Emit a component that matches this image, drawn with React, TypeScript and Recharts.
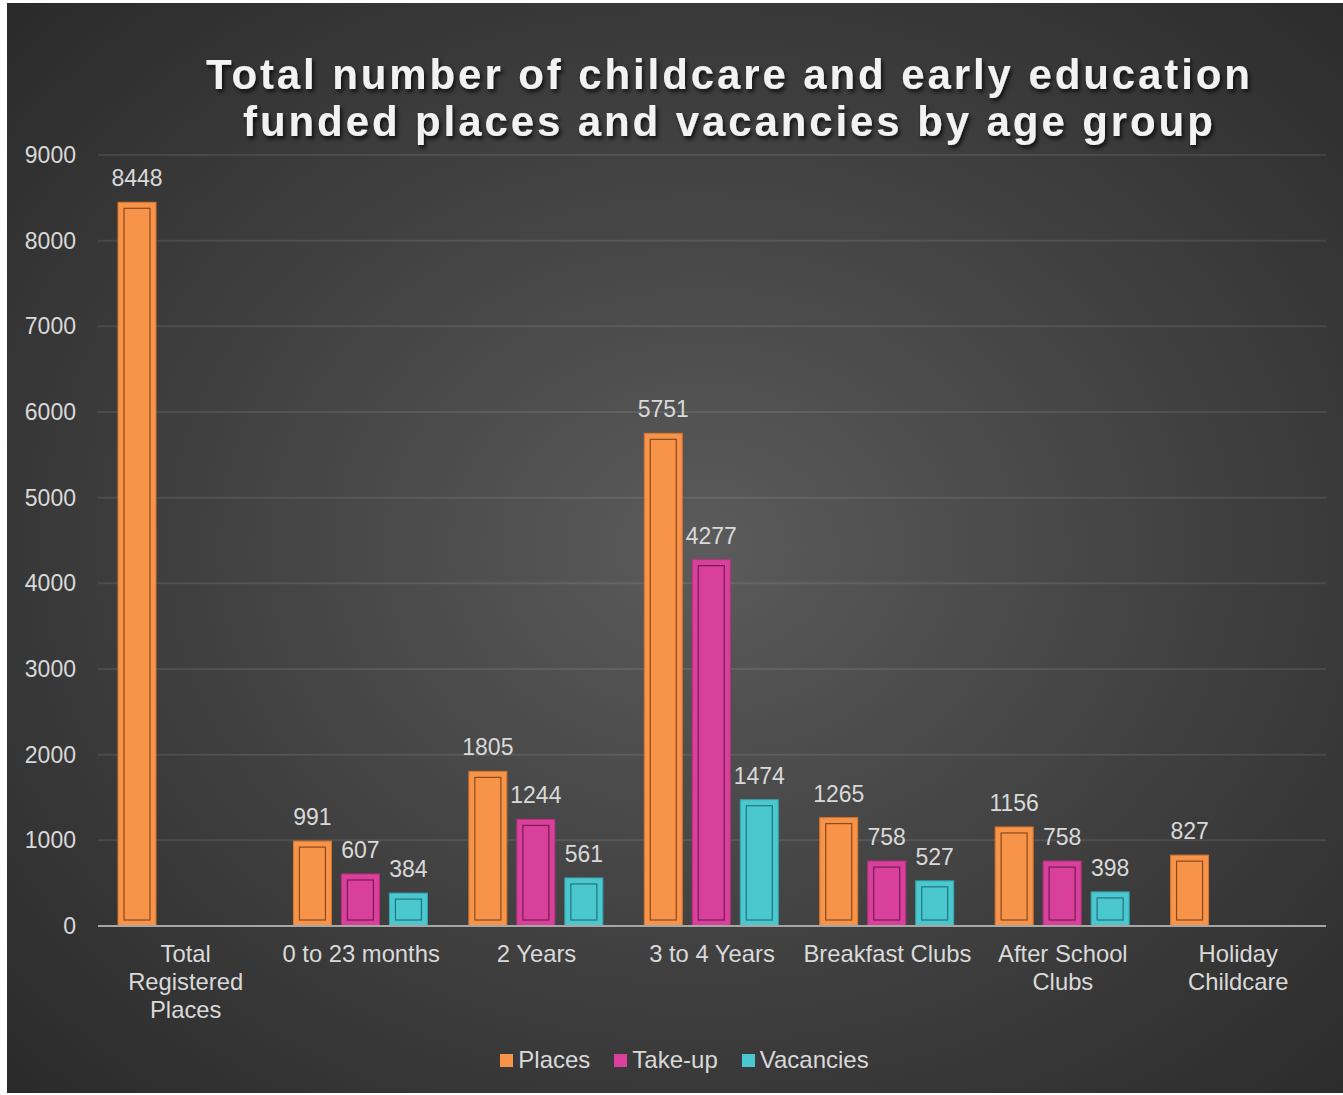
import React from "react";
import { BarChart, Bar, XAxis, YAxis, CartesianGrid, LabelList, Legend } from "recharts";

const categories = [
  "Total Registered Places",
  "0 to 23 months",
  "2 Years",
  "3 to 4 Years",
  "Breakfast Clubs",
  "After School Clubs",
  "Holiday Childcare",
];
const places = [8448, 991, 1805, 5751, 1265, 1156, 827];
const takeUp = [null, 607, 1244, 4277, 758, 758, null];
const vacancies = [null, 384, 561, 1474, 527, 398, null];
const yTicks = [0, 1000, 2000, 3000, 4000, 5000, 6000, 7000, 8000, 9000];
const tickLines: Record<string, string[]> = {
  "Total Registered Places": ["Total", "Registered", "Places"],
  "0 to 23 months": ["0 to 23 months"],
  "2 Years": ["2 Years"],
  "3 to 4 Years": ["3 to 4 Years"],
  "Breakfast Clubs": ["Breakfast Clubs"],
  "After School Clubs": ["After School", "Clubs"],
  "Holiday Childcare": ["Holiday", "Childcare"],
};
const seriesNames = ["Places", "Take-up", "Vacancies"];
const titleLines = [
  "Total number of childcare and early education",
  "funded places and vacancies by age group",
];

const COLORS = {
  places: { fill: "#F7944A", edge: "#D9752C", inner: "#8A4A1C" },
  takeUp: { fill: "#D9409B", edge: "#B8307F", inner: "#761C52" },
  vacancies: { fill: "#4BC8CF", edge: "#33A7AE", inner: "#22747A" },
};

const data = categories.map((c, i) => ({
  category: c,
  places: places[i],
  takeUp: takeUp[i],
  vacancies: vacancies[i],
}));

const FONT = '"Liberation Sans", Arial, sans-serif';
const TXT = "#d9d9d9";

const makeShape = (c: { fill: string; edge: string; inner: string }) => (props: any) => {
  const { x, y, width, height } = props;
  if (height == null || !(height > 0)) return null;
  const inset = 6;
  return (
    <g>
      <rect x={x} y={y} width={width} height={height} fill={c.fill} stroke={c.edge} strokeWidth={1} />
      {height > 2 * inset + 2 && (
        <rect
          x={x + inset}
          y={y + inset}
          width={width - 2 * inset}
          height={height - 2 * inset}
          fill="none"
          stroke={c.inner}
          strokeWidth={1.2}
        />
      )}
    </g>
  );
};

const XTick = (props: any) => {
  const { x, y, payload } = props;
  const lines = tickLines[payload.value] || [String(payload.value)];
  return (
    <g>
      {lines.map((l, i) => (
        <text
          key={i}
          x={x}
          y={y + 28 + i * 28}
          textAnchor="middle"
          fill={TXT}
          fontSize={23.8}
          fontFamily={FONT}
        >
          {l}
        </text>
      ))}
    </g>
  );
};

const LegendContent = () => {
  const cols = [COLORS.places.fill, COLORS.takeUp.fill, COLORS.vacancies.fill];
  return (
    <div
      style={{
        display: "flex",
        justifyContent: "center",
        alignItems: "center",
        height: 34,
        paddingLeft: 19,
        fontFamily: FONT,
        fontSize: 24,
        color: TXT,
      }}
    >
      {seriesNames.map((n, i) => (
        <div key={n} style={{ display: "flex", alignItems: "center", marginRight: i < 2 ? 24 : 0 }}>
          <span style={{ width: 13, height: 13, background: cols[i], display: "inline-block", marginRight: 5 }} />
          <span>{n}</span>
        </div>
      ))}
    </div>
  );
};

const labelProps = {
  position: "top" as const,
  offset: 16,
  fill: TXT,
  fontSize: 23,
  fontFamily: FONT,
};

export default function App() {
  return (
    <div style={{ position: "absolute", left: 0, top: 0, width: 1343, height: 1095, background: "#ffffff", overflow: "hidden" }}>
      <div
        style={{
          position: "absolute",
          left: 7,
          top: 3,
          width: 1336,
          height: 1090,
          background: "radial-gradient(ellipse 72% 72% at 52% 50%, #5b5b5b 0%, #3f3f3f 55%, #2a2a2a 100%)",
        }}
      >
        <BarChart
          width={1336}
          height={1090}
          data={data}
          margin={{ top: 152, right: 17, bottom: 107, left: 0 }}
          barCategoryGap={20}
          barGap={10}
        >
          <CartesianGrid vertical={false} stroke="#ffffff" strokeOpacity={0.09} strokeWidth={2} />
          <XAxis
            dataKey="category"
            axisLine={{ stroke: "#a6a6a6", strokeWidth: 2 }}
            tickLine={false}
            tick={<XTick />}
            height={60}
            interval={0}
          />
          <YAxis
            width={91}
            domain={[0, 9000]}
            ticks={yTicks}
            axisLine={false}
            tickLine={false}
            tickMargin={16}
            tick={{ fill: TXT, fontSize: 23, fontFamily: FONT }}
          />
          <Legend
            verticalAlign="middle"
            layout="horizontal"
            align="center"
            wrapperStyle={{ position: "absolute", top: 1040, left: 0, width: 1336, height: 34 }}
            content={<LegendContent />}
          />
          <Bar dataKey="places" name="Places" fill={COLORS.places.fill} shape={makeShape(COLORS.places)} isAnimationActive={false}>
            <LabelList dataKey="places" {...labelProps} />
          </Bar>
          <Bar dataKey="takeUp" name="Take-up" fill={COLORS.takeUp.fill} shape={makeShape(COLORS.takeUp)} isAnimationActive={false}>
            <LabelList dataKey="takeUp" {...labelProps} />
          </Bar>
          <Bar dataKey="vacancies" name="Vacancies" fill={COLORS.vacancies.fill} shape={makeShape(COLORS.vacancies)} isAnimationActive={false}>
            <LabelList dataKey="vacancies" {...labelProps} />
          </Bar>
        </BarChart>
        <svg style={{ position: "absolute", left: 0, top: 0, pointerEvents: "none" }} width={1336} height={160}>
          <defs>
            <filter id="ts" x="-5%" y="-30%" width="110%" height="160%">
              <feDropShadow dx="2" dy="3" stdDeviation="2" floodColor="#000000" floodOpacity="0.75" />
            </filter>
          </defs>
          {titleLines.map((t, i) => (
            <text
              key={i}
              x={721 + 1.4}
              y={86 + i * 47}
              textAnchor="middle"
              fill="#f2f2f2"
              fontSize={42}
              fontWeight="bold"
              fontFamily={FONT}
              letterSpacing={2.9}
              filter="url(#ts)"
            >
              {t}
            </text>
          ))}
        </svg>
      </div>
    </div>
  );
}
